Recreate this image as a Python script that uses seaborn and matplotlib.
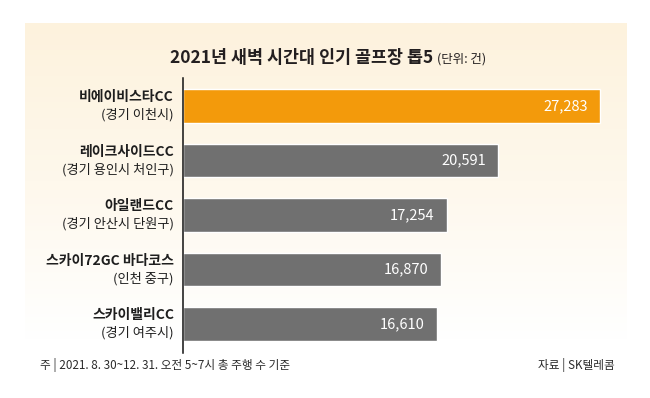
import matplotlib
matplotlib.use("Agg")
import matplotlib.pyplot as plt
from matplotlib.colors import LinearSegmentedColormap
import numpy as np
import pandas as pd
import seaborn as sns

# data
courses = ["비에이비스타CC", "레이크사이드CC", "아일랜드CC", "스카이72GC 바다코스", "스카이밸리CC"]
regions = ["(경기 이천시)", "(경기 용인시 처인구)", "(경기 안산시 단원구)", "(인천 중구)", "(경기 여주시)"]
rounds = [27283, 20591, 17254, 16870, 16610]
bar_colors = ["#F39A0B", "#707070", "#707070", "#707070", "#707070"]

title = "2021년 새벽 시간대 인기 골프장 톱5"
unit = "(단위: 건)"
note = "주 | 2021. 8. 30~12. 31. 오전 5~7시 총 주행 수 기준"
source = "자료 | SK텔레콤"

W, H = 650, 398

sns.set_theme(style="white")
plt.rcParams["font.family"] = ["Noto Sans CJK KR", "DejaVu Sans"]

fig = plt.figure(figsize=(W / 100, H / 100), dpi=100)
fig.patch.set_facecolor("white")

# cream panel, fading to white at the bottom
bg = fig.add_axes([25 / W, 1 - 340 / H, 602 / W, 317 / H], zorder=0)
cmap = LinearSegmentedColormap.from_list("cream", ["#FDF2DD", "#FEF8EC", "#FFFFFF"])
bg.imshow(np.linspace(0, 1, 256).reshape(-1, 1), aspect="auto", cmap=cmap,
          extent=(0, 1, 0, 1), origin="upper")
bg.axis("off")

ax = fig.add_axes([183 / W, 1 - 353 / H, 444 / W, 275 / H], zorder=1)
ax.patch.set_alpha(0)

df = pd.DataFrame({"course": courses, "rounds": rounds})
sns.barplot(data=df, x="rounds", y="course", hue="course", palette=bar_colors,
            width=0.62, legend=False, saturation=1, ax=ax)

ax.set_xlim(0, rounds[0] * 444 / 417)
ax.set_ylim(4.532, -0.514)
ax.set_xlabel("")
ax.set_ylabel("")
ax.set_xticks([])
ax.set_yticks([])
for side in ["top", "right", "bottom"]:
    ax.spines[side].set_visible(False)
ax.spines["left"].set_color("#111111")
ax.spines["left"].set_linewidth(1.1)

for i, (name, reg, val) in enumerate(zip(courses, regions, rounds)):
    ax.annotate(name, xy=(0, i), xycoords=("axes fraction", "data"),
                xytext=(-9, 9), textcoords="offset pixels", ha="right", va="center",
                fontsize=10, fontweight="bold", color="#1E1E1E")
    ax.annotate(reg, xy=(0, i), xycoords=("axes fraction", "data"),
                xytext=(-9, -9), textcoords="offset pixels", ha="right", va="center",
                fontsize=9.5, color="#1E1E1E")
    ax.annotate(f"{val:,}", xy=(val, i), xytext=(-12, 0), textcoords="offset pixels",
                ha="right", va="center", fontsize=10.5, fontweight="medium", color="white")

t = fig.text(433 / W, 1 - 58 / H, title, ha="right", va="center",
             fontsize=12.5, fontweight="bold", color="#231F20")
fig.canvas.draw()
bb = t.get_window_extent()
fig.text((bb.x1 + 4) / W, 1 - 59 / H, unit, ha="left", va="center",
         fontsize=9, color="#231F20")

fig.text(40 / W, 1 - 365 / H, note, ha="left", va="center", fontsize=8.4, color="#2A2A2A")
fig.text(615 / W, 1 - 365 / H, source, ha="right", va="center", fontsize=8.4, color="#2A2A2A")

fig.savefig("out.png", dpi=100)
